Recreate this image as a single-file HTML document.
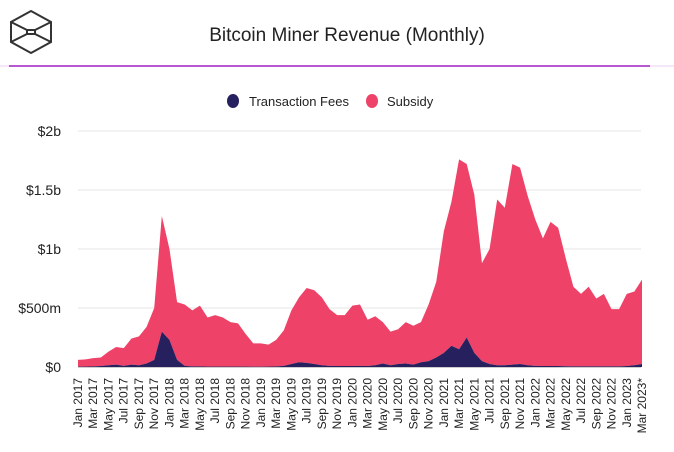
<!DOCTYPE html>
<html><head><meta charset="utf-8"><style>
body{margin:0;background:#fff;width:674px;height:452px;overflow:hidden;font-family:"Liberation Sans",sans-serif;}
svg{display:block}
</style></head><body>
<svg id="chart" width="674" height="452">
  <g fill="none" stroke="#333" stroke-width="2">
    <polygon points="31,11 51,22 51,42 31,53 11,42 11,22"/>
    <polyline points="11,22 27,30 35,30 51,22"/>
    <polyline points="11,42 27,34 35,34 51,42"/>
    <polygon points="27,30 35,30 35,34 27,34"/>
  </g>
  <text x="347" y="41" text-anchor="middle" font-size="19" fill="#222">Bitcoin Miner Revenue (Monthly)</text>
  <line x1="0" y1="66" x2="674" y2="66" stroke="#e8d0f0" stroke-width="1"/>
  <line x1="9" y1="66" x2="650" y2="66" stroke="#a020c0" stroke-width="1.5"/>
  <g>
    <g>
      <ellipse cx="233" cy="101" rx="6" ry="7" fill="#27205e"/>
      <text x="249" y="106" font-size="13" fill="#222">Transaction Fees</text>
    </g>
    <g>
      <ellipse cx="372" cy="101" rx="6" ry="7" fill="#ee4268"/>
      <text x="387" y="106" font-size="13" fill="#222">Subsidy</text>
    </g>
  </g>
  <g id="grid"></g>
  <g id="areas"></g>
  <g id="xlabels"></g>
</svg>
<script>
const months = ["Jan","Feb","Mar","Apr","May","Jun","Jul","Aug","Sep","Oct","Nov","Dec"];
const fees = [2,3,5,8,15,20,10,20,15,30,60,300,
  230,60,10,5,5,3,3,3,3,3,3,2,
  2,3,5,10,25,40,35,25,15,10,8,8,
  8,10,8,15,30,15,25,30,20,40,50,80,
  120,180,150,250,120,50,25,15,15,20,25,15,
  10,8,8,8,6,5,5,5,5,5,5,5,
  8,15,25];
const totals = [60,65,75,80,130,170,160,240,260,340,500,1280,
  1000,550,530,480,520,420,440,420,380,370,280,200,
  200,190,230,310,480,590,670,650,590,490,440,440,
  520,530,400,430,380,300,320,380,350,380,530,720,
  1150,1400,1760,1720,1460,880,1000,1420,1350,1720,1690,1450,
  1250,1090,1230,1180,920,680,620,680,580,620,490,490,
  620,640,740];
const subsidy = totals.map((t,i)=>t-fees[i]);
const yTicks = [0,500,1000,1500,2000];
const yTickLabels = ["$0","$500m","$1b","$1.5b","$2b"];
const categories = fees.map((_,i)=>months[i%12]+" "+(2017+Math.floor(i/12))+(i===fees.length-1?"*":""));

const NS="http://www.w3.org/2000/svg";
const X0=78,X1=642,Y0=367,Y1=131;
const x=i=>X0+(X1-X0)*i/(fees.length-1);
const y=v=>Y0-(Y0-Y1)*v/2000;
const grid=document.getElementById('grid');
yTicks.forEach((t,k)=>{
  const l=document.createElementNS(NS,'line');
  l.setAttribute('x1',X0);l.setAttribute('x2',641);l.setAttribute('y1',y(t));l.setAttribute('y2',y(t));
  l.setAttribute('stroke',t===0?'#999':'#e6e6e6');l.setAttribute('stroke-width',1);
  
  
  grid.appendChild(l);
  const tx=document.createElementNS(NS,'text');
  tx.setAttribute('x',61);tx.setAttribute('y',y(t)+5);tx.setAttribute('text-anchor','end');
  tx.setAttribute('font-size','14');tx.setAttribute('fill','#222');
  tx.textContent=yTickLabels[k];
  
  
  grid.appendChild(tx);
});
const areas=document.getElementById('areas');
function area(top,bottom,color,name){
  let d='M'+x(0)+','+y(top[0]);
  for(let i=1;i<top.length;i++) d+='L'+x(i)+','+y(top[i]);
  for(let i=bottom.length-1;i>=0;i--) d+='L'+x(i)+','+y(bottom[i]);
  d+='Z';
  const p=document.createElementNS(NS,'path');
  p.setAttribute('d',d);p.setAttribute('fill',color);
  
  
  areas.appendChild(p);
}
const stackTop=subsidy.map((s,i)=>s+fees[i]);
area(stackTop,fees,'#ee4268','subsidy-area');
area(fees,fees.map(()=>0),'#27205e','fees-area');
const xl=document.getElementById('xlabels');
categories.forEach((c,i)=>{
  if(i%2) return;
  const t=document.createElementNS(NS,'text');
  t.setAttribute('transform','translate('+(x(i)+4)+',378) rotate(-90)');
  t.setAttribute('text-anchor','end');t.setAttribute('font-size','12');t.setAttribute('fill','#222');
  t.textContent=c;
  
  
  xl.appendChild(t);
});
</script>
</body></html>
